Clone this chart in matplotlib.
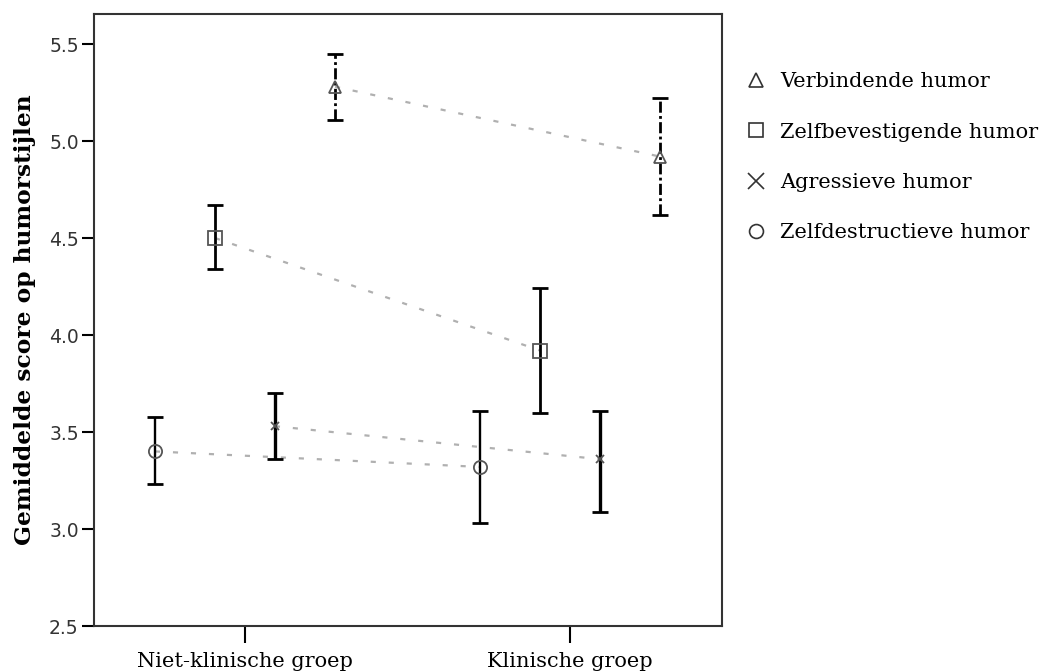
import matplotlib
matplotlib.use("Agg")
import matplotlib.pyplot as plt
from matplotlib.lines import Line2D
import numpy as np

groups = ["Niet-klinische groep", "Klinische groep"]
series = ["Verbindende humor", "Zelfbevestigende humor", "Agressieve humor", "Zelfdestructieve humor"]
means = {
    "Verbindende humor": [5.28, 4.92],
    "Zelfbevestigende humor": [4.50, 3.92],
    "Agressieve humor": [3.53, 3.36],
    "Zelfdestructieve humor": [3.40, 3.32],
}
lower = {
    "Verbindende humor": [5.11, 4.62],
    "Zelfbevestigende humor": [4.34, 3.60],
    "Agressieve humor": [3.36, 3.09],
    "Zelfdestructieve humor": [3.23, 3.03],
}
upper = {
    "Verbindende humor": [5.45, 5.22],
    "Zelfbevestigende humor": [4.67, 4.24],
    "Agressieve humor": [3.70, 3.61],
    "Zelfdestructieve humor": [3.58, 3.61],
}
ylabel = "Gemiddelde score op humorstijlen"
yticks = [2.5, 3.0, 3.5, 4.0, 4.5, 5.0, 5.5]

offsets = {"Verbindende humor": 0.277, "Zelfbevestigende humor": -0.092,
           "Agressieve humor": 0.092, "Zelfdestructieve humor": -0.277}
markers = {"Verbindende humor": "^", "Zelfbevestigende humor": "s",
           "Agressieve humor": "x", "Zelfdestructieve humor": "o"}
msizes = {"Verbindende humor": 8, "Zelfbevestigende humor": 9.5,
          "Agressieve humor": 6, "Zelfdestructieve humor": 9.5}
elw = {"Verbindende humor": 2.0, "Zelfbevestigende humor": 2.0,
       "Agressieve humor": 2.4, "Zelfdestructieve humor": 1.7}
els = {"Verbindende humor": (0, (4, 1.2, 1, 1.2)), "Zelfbevestigende humor": "-",
       "Agressieve humor": "-", "Zelfdestructieve humor": "-"}

fig = plt.figure(figsize=(10.46, 6.72), dpi=100)
ax = fig.add_axes([94/1046, 1-626/672, (722-94)/1046, (626-14)/672])

xbase = np.arange(len(groups))
for s in series:
    x = xbase + offsets[s]
    m = np.array(means[s])
    lo = m - np.array(lower[s])
    hi = np.array(upper[s]) - m
    ax.plot(x, m, color="#b0b0b0", lw=1.6, ls=(0, (2.3, 5.8)), zorder=1)
    eb = ax.errorbar(x, m, yerr=[lo, hi], fmt="none", ecolor="black",
                     elinewidth=elw[s], capsize=5.5, capthick=2.0, zorder=2)
    eb[2][0].set_linestyle(els[s])
    ax.plot(x, m, ls="none", marker=markers[s], ms=msizes[s], mfc="none",
            mec="#555555", mew=1.3, zorder=3)

ax.set_xlim(-0.4646, 1.4677)
ax.set_ylim(2.5, 5.655)
ax.set_xticks(xbase)
ax.set_xticklabels(groups, family="DejaVu Serif", fontsize=15)
ax.set_yticks(yticks)
ax.set_yticklabels([f"{v:.1f}" for v in yticks], family="DejaVu Sans",
                   fontsize=13.5, color="#333333")
ax.tick_params(axis="y", length=9, width=1.5, pad=2)
ax.tick_params(axis="x", length=12, width=1.5, pad=7)
for sp in ax.spines.values():
    sp.set_linewidth(1.5)
    sp.set_color("#333333")
ax.set_ylabel(ylabel, family="DejaVu Serif", fontsize=16.8, fontweight="bold",
              labelpad=9)

handles = [Line2D([], [], ls="none", marker=markers[s], ms=(12 if s == "Agressieve humor" else 10),
                  mfc="none", mec="#333333", mew=1.2) for s in series]
fig.legend(handles, series, loc="upper left", bbox_to_anchor=(734/1046, 1-64/672),
           frameon=False, prop={"family": "DejaVu Serif", "size": 15},
           labelspacing=1.5, handletextpad=0.5, handlelength=1.3, borderaxespad=0)

fig.savefig("out.png", dpi=100)
